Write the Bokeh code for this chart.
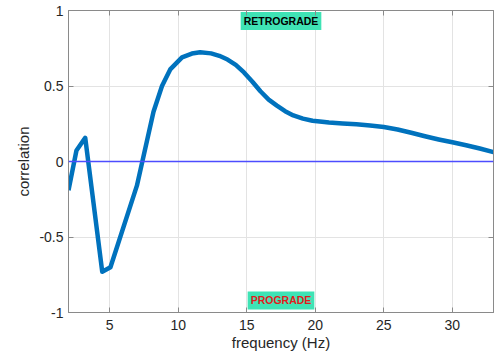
from bokeh.plotting import figure
from bokeh.models import LinearAxis, Range1d, FixedTicker, Span, ColumnDataSource
from bokeh.core.properties import value
from bokeh.embed import file_html
from bokeh.resources import INLINE

# Data
freq = [2.0, 2.58, 3.22, 4.46, 5.06, 6.99, 7.84, 8.2, 8.82, 9.42, 10.28, 11.0, 11.6,
        12.4, 13.0, 13.6, 14.2, 14.8, 15.4, 16.0, 16.6, 17.2, 17.8, 18.4, 19.1,
        19.8, 20.5, 21.0, 22.0, 23.0, 24.0, 25.0, 26.0, 27.0, 28.0, 29.0, 30.0,
        31.0, 32.0, 33.0]
corr = [-0.19, 0.073, 0.157, -0.73, -0.70, -0.16, 0.183, 0.33, 0.50, 0.61, 0.69, 0.715, 0.724,
        0.716, 0.70, 0.675, 0.64, 0.59, 0.53, 0.465, 0.41, 0.37, 0.333, 0.305, 0.284,
        0.27, 0.263, 0.258, 0.252, 0.246, 0.238, 0.228, 0.212, 0.19, 0.167, 0.146, 0.127,
        0.108, 0.086, 0.062]
x_ticks = [5, 10, 15, 20, 25, 30]
y_ticks = [-1, -0.5, 0, 0.5, 1]
y_tick_labels = {-1: "-1", -0.5: "-0.5", 0: "0", 0.5: "0.5", 1: "1"}
annot_text = ["RETROGRADE", "PROGRADE"]
annot_color = ["#000000", "#e41a1c"]
annot_x = [17.5, 17.5]
annot_y = [0.93, -0.92]

FONT = "Liberation Sans"
AX_COLOR = "#8a8a8a"
TXT_COLOR = "#262626"

p = figure(width=500, height=354, output_backend="svg", toolbar_location=None,
           x_range=Range1d(2, 33), y_range=Range1d(-1, 1),
           min_border_left=68, min_border_right=7, min_border_top=10, min_border_bottom=42,
           background_fill_color="white", border_fill_color="white")
p.outline_line_color = AX_COLOR
p.outline_line_width = 1

# main axes
for ax in (p.xaxis[0], p.yaxis[0]):
    ax.axis_line_color = AX_COLOR
    ax.major_tick_line_color = AX_COLOR
    ax.major_tick_in = 5
    ax.major_tick_out = 0
    ax.minor_tick_line_color = None
    ax.major_label_text_font = FONT
    ax.major_label_text_font_size = "14px"
    ax.major_label_text_color = TXT_COLOR
    ax.axis_label_text_font = FONT
    ax.axis_label_text_font_size = "15px"
    ax.axis_label_text_font_style = "normal"
    ax.axis_label_text_color = TXT_COLOR

p.xaxis.ticker = FixedTicker(ticks=x_ticks)
p.yaxis.ticker = FixedTicker(ticks=y_ticks)
p.yaxis.major_label_overrides = y_tick_labels
p.xaxis.axis_label = "frequency (Hz)"
p.yaxis.axis_label = "correlation"
p.xaxis.major_label_standoff = 7
p.xaxis.axis_label_standoff = 1
p.yaxis.major_label_standoff = 5
p.yaxis.axis_label_standoff = 4

# box axes (top/right) with inward ticks, no labels
top = LinearAxis(ticker=FixedTicker(ticks=x_ticks),
                 major_label_overrides={t: "" for t in x_ticks})
right = LinearAxis(ticker=FixedTicker(ticks=y_ticks),
                   major_label_overrides={t: "" for t in y_ticks})
for ax in (top, right):
    ax.axis_line_color = AX_COLOR
    ax.major_tick_line_color = AX_COLOR
    ax.major_tick_in = 5
    ax.major_tick_out = 0
    ax.minor_tick_line_color = None
    ax.major_label_text_font_size = "1px"
    ax.major_label_standoff = 0
p.add_layout(top, "above")
p.add_layout(right, "right")

p.xgrid.ticker = FixedTicker(ticks=x_ticks)
p.ygrid.ticker = FixedTicker(ticks=y_ticks)
p.xgrid.grid_line_color = "#e3e3e3"
p.ygrid.grid_line_color = "#e3e3e3"

p.add_layout(Span(location=0, dimension="width", line_color="#4d4dff", line_width=1.3))

src = ColumnDataSource(dict(f=freq, c=corr))
p.line("f", "c", source=src, line_color="#0072BD", line_width=4.5, line_join="round")

asrc = ColumnDataSource(dict(x=annot_x, y=annot_y, t=annot_text, col=annot_color))
p.text("x", "y", text="t", source=asrc, text_color="col",
       text_font=value(FONT), text_font_size="10.5px", text_font_style="bold",
       text_align="center", text_baseline="middle",
       background_fill_color="#3fe3b5", padding=3)

open("out.html", "w").write(file_html(p, INLINE))
